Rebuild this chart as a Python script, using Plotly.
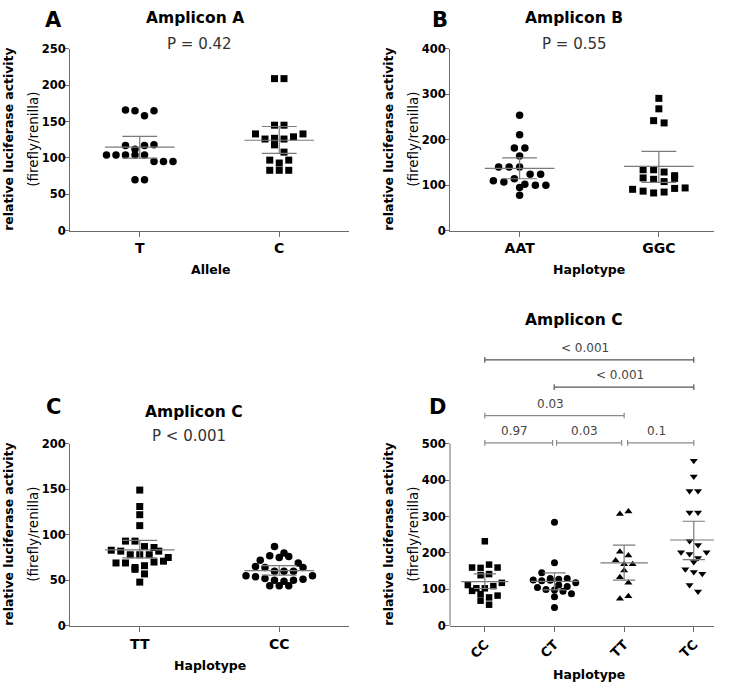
import plotly.graph_objects as go

# ---------------- data ----------------
A_cats = ["T", "C"]
A_T = [166, 165, 158, 165, 117, 112, 117, 118, 104, 104, 104, 104, 104, 95, 95, 95, 70, 70]
A_C = [209, 209, 145, 145, 133, 126, 127, 118, 126, 129, 133, 108, 97, 93, 97, 83, 83, 83]
A_mean = [114.9, 124.3]
A_lo = [99.7, 106.3]
A_hi = [129.7, 143.2]

B_cats = ["AAT", "GGC"]
B_AAT = [254, 211, 182, 182, 164, 140, 140, 140, 124, 110, 107, 114, 124, 102, 100, 100, 95, 78]
B_GGC = [291, 268, 242, 237, 134, 134, 129, 116, 113, 108, 115, 121, 91, 87, 83, 85, 93, 94]
B_mean = [137.1, 141.4]
B_lo = [114.2, 106.3]
B_hi = [160.1, 174.5]

C_cats = ["TT", "CC"]
C_TT = [149, 131, 122, 110, 93, 93, 83, 82, 78, 87, 78, 78, 82, 86, 75, 69, 69, 64, 62, 57, 66, 70, 71, 48]
C_CC = [87, 80, 72, 77, 75, 76, 69, 65, 64, 60, 60, 60, 64, 55, 54, 52, 50, 49, 50, 51, 55, 44, 44, 44]
C_mean = [83.3, 60.5]
C_lo = [74.5, 55.6]
C_hi = [93.7, 66.1]

D_cats = ["CC", "CT", "TT", "TC"]
D_CC = [232, 160, 159, 168, 160, 139, 142, 112, 103, 96, 87, 103, 109, 118, 78, 83, 69, 58]
D_CT = [284, 173, 146, 130, 126, 124, 128, 130, 125, 112, 108, 105, 118, 100, 98, 95, 88, 80, 50]
D_TT = [307, 314, 203, 193, 179, 169, 169, 152, 133, 118, 74, 81]
D_TC = [453, 410, 370, 370, 311, 311, 233, 222, 202, 197, 186, 202, 175, 155, 148, 143, 112, 94]
D_mean = [121.5, 121.9, 173.0, 235.5]
D_lo = [102.5, 98.6, 125.4, 181.5]
D_hi = [142.8, 145.2, 221.3, 287.0]

D_pairs = [(0, 3), (1, 3), (0, 2), (0, 1), (1, 2), (2, 3)]
D_pvals = ["< 0.001", "< 0.001", "0.03", "0.97", "0.03", "0.1"]

# ---------------- style / layout ----------------
W, H = 731, 689
F = "DejaVu Sans"
AC = "#6b6b6b"
BAR = "#7a7a7a"


def px_x(p):
    return p / W


def px_y(p):
    return 1 - p / H


def column_scatter(vals, ppu, vth, hs):
    """Prism-like column scatter: points close in value share a row and are
    spread symmetrically around the category centre (offsets in pixels)."""
    n = len(vals)
    order = sorted(range(n), key=lambda i: -vals[i])
    rows, cur, start = [], [], None
    for i in order:
        if cur and (vals[start] - vals[i]) * ppu > vth:
            rows.append(cur)
            cur = []
        if not cur:
            start = i
        cur.append(i)
    if cur:
        rows.append(cur)
    xs = [0.0] * n
    for row in rows:
        row = sorted(row)
        m = len(row)
        for k, i in enumerate(row):
            xs[i] = (k - (m - 1) / 2) * hs
    return xs


panels = [
    dict(ax="", groups=[A_T, A_C], syms=["circle", "square"],
         mean=A_mean, lo=A_lo, hi=A_hi, ppu=185.67 / 250, ppc=139.5, vth=7.5, hs=9.5,
         msize=[7.5, 7], mw=0.25, cw=0.125),
    dict(ax="2", groups=[B_AAT, B_GGC], syms=["circle", "square"],
         mean=B_mean, lo=B_lo, hi=B_hi, ppu=185.67 / 400, ppc=139.2, vth=7.5, hs=10.5,
         msize=[7.5, 7], mw=0.25, cw=0.125),
    dict(ax="3", groups=[C_TT, C_CC], syms=["square", "circle"],
         mean=C_mean, lo=C_lo, hi=C_hi, ppu=186.0 / 200, ppc=139.5, vth=7.5, hs=9.5,
         msize=[7, 7.5], mw=0.25, cw=0.125),
    dict(ax="4", groups=[D_CC, D_CT, D_TT, D_TC],
         syms=["square", "circle", "triangle-up", "triangle-down"],
         mean=D_mean, lo=D_lo, hi=D_hi, ppu=186.0 / 500, ppc=69.66, vth=7.0, hs=8.5,
         msize=[6.5, 7, 7, 7], mw=0.34, cw=0.16),
]

fig = go.Figure()

for p in panels:
    xa = "x" + p["ax"]
    ya = "y" + p["ax"]
    for gi, vals in enumerate(p["groups"]):
        offs = column_scatter(vals, p["ppu"], p["vth"], p["hs"])
        fig.add_trace(go.Scatter(
            x=[gi + o / p["ppc"] for o in offs], y=vals, mode="markers",
            marker=dict(symbol=p["syms"][gi], size=p["msize"][gi], color="black",
                        line=dict(width=0)),
            xaxis=xa, yaxis=ya, showlegend=False, cliponaxis=False, hoverinfo="y"))
    lx, ly = [], []
    for gi in range(len(p["groups"])):
        m, lo, hi = p["mean"][gi], p["lo"][gi], p["hi"][gi]
        lx += [gi - p["mw"], gi + p["mw"], None,
               gi, gi, None,
               gi - p["cw"], gi + p["cw"], None,
               gi - p["cw"], gi + p["cw"], None]
        ly += [m, m, None, lo, hi, None, hi, hi, None, lo, lo, None]
    fig.add_trace(go.Scatter(x=lx, y=ly, mode="lines", line=dict(color=BAR, width=1.2),
                             xaxis=xa, yaxis=ya, showlegend=False, hoverinfo="skip",
                             cliponaxis=False))

# ---------------- axes ----------------
tickfont_y = dict(family=F, size=11.5, color="black", weight="bold")


def yax(rng, dtick, dom, anchor, showline=True, tickvals=None):
    d = dict(range=rng, domain=dom, anchor=anchor, showline=showline, linecolor=AC,
             linewidth=1, ticks="outside", ticklen=4, tickwidth=1, tickcolor=AC,
             ticklabelstandoff=-3,
             showgrid=False, zeroline=False, tickfont=tickfont_y, fixedrange=True)
    if tickvals is not None:
        d["tickvals"] = tickvals
    else:
        d["dtick"] = dtick
        d["tick0"] = 0
    return d


def xax(rng, dom, anchor, cats, angle=0, size=14):
    return dict(range=rng, domain=dom, anchor=anchor, showline=True, linecolor=AC,
                linewidth=1, ticks="outside", ticklen=5, tickwidth=1, tickcolor=AC,
                showgrid=False, zeroline=False,
                tickvals=list(range(len(cats))), ticktext=cats, tickangle=angle,
                tickfont=dict(family=F, size=size, color="black", weight="bold"),
                fixedrange=True)


top_dom = [px_y(228.33), px_y(42.67)]
bot_dom = [px_y(631.67), px_y(445.67)]
left_dom = [px_x(70), px_x(349)]
right_dom = [px_x(450), px_x(714)]
D_top = (631.67 - 340) / (186.0 / 500)

fig.update_layout(
    width=W, height=H, margin=dict(l=0, r=0, t=0, b=0),
    paper_bgcolor="white", plot_bgcolor="white", showlegend=False,
    xaxis=xax([-0.5, 1.5], left_dom, "y", A_cats),
    yaxis=yax([0, 250], 50, top_dom, "x"),
    xaxis2=xax([-0.5, 1.396], right_dom, "y2", B_cats),
    yaxis2=yax([0, 400], 100, top_dom, "x2"),
    xaxis3=xax([-0.5, 1.5], left_dom, "y3", C_cats),
    yaxis3=yax([0, 200], 50, bot_dom, "x3"),
    xaxis4=xax([-0.5, 3.29], right_dom, "y4", D_cats, angle=-45, size=13),
    yaxis4=yax([0, D_top], 100, [px_y(631.67), px_y(340)], "x4", showline=False,
               tickvals=[0, 100, 200, 300, 400, 500]),
)

shapes = [dict(type="line", xref="x4 domain", yref="y4", x0=0, x1=0, y0=0, y1=500,
               line=dict(color=AC, width=1))]

bracket_levels = [730, 655, 577, 502, 502, 502]
bracket_x = [(0, 3.0), (0.996, 3.0), (0, 2.0), (0, 0.973), (1.03, 1.964), (2.05, 3.0)]
bracket_cols = ["#555555", "#555555", "#8a8a8a", "#8a8a8a", "#8a8a8a", "#8a8a8a"]
tick_h = 8
annotations = []
for k, (pair, lab) in enumerate(zip(D_pairs, D_pvals)):
    x0, x1 = bracket_x[k]
    yl = bracket_levels[k]
    col = bracket_cols[k]
    shapes.append(dict(type="line", xref="x4", yref="y4", x0=x0, x1=x1, y0=yl, y1=yl,
                       line=dict(color=col, width=1.2)))
    for xe in (x0, x1):
        shapes.append(dict(type="line", xref="x4", yref="y4", x0=xe, x1=xe,
                           y0=yl - tick_h, y1=yl + tick_h, line=dict(color=col, width=1.2)))
    annotations.append(dict(text=lab, xref="x4", yref="y4", x=(x0 + x1) / 2 - 0.06,
                            y=yl, yshift=12, showarrow=False, xanchor="center",
                            yanchor="middle",
                            font=dict(family=F, size=12, color="#444444")))


def pa(text, x, y, size, bold=True, color="black", angle=0):
    annotations.append(dict(text=text, xref="paper", yref="paper", x=px_x(x), y=px_y(y),
                            showarrow=False, xanchor="center", yanchor="middle",
                            textangle=angle,
                            font=dict(family=F, size=size, color=color,
                                      weight="bold" if bold else "normal")))


pa("A", 53, 13, 21)
pa("B", 440, 13, 21)
pa("C", 53, 408, 21)
pa("D", 437, 408, 21)
pa("Amplicon A", 195, 11, 15.5)
pa("Amplicon B", 574, 11, 15.5)
pa("Amplicon C", 194, 413, 15.5)
pa("Amplicon C", 574, 320, 15.5)
pa("P = 0.42", 199, 38, 15, bold=False, color="#333333")
pa("P = 0.55", 574, 38, 15, bold=False, color="#333333")
pa("P < 0.001", 189, 438, 15, bold=False, color="#333333")
pa("Allele", 210, 268, 12.5)
pa("Haplotype", 589, 268, 12.5)
pa("Haplotype", 210, 672, 12.5)
pa("Haplotype", 589, 681, 12.5)
for (axx, cy) in [(70, 135.5), (450, 135.5), (70, 538.7), (450, 538.7)]:
    pa("relative luciferase activity", axx - 61, cy, 12.4, angle=-90)
    pa("(firefly/renilla)", axx - 37, cy, 13.5, bold=False, angle=-90)

fig.update_layout(shapes=shapes, annotations=annotations)
fig.write_html("out.html", config={"displayModeBar": False},
               post_script="document.body.style.margin='0px';")
